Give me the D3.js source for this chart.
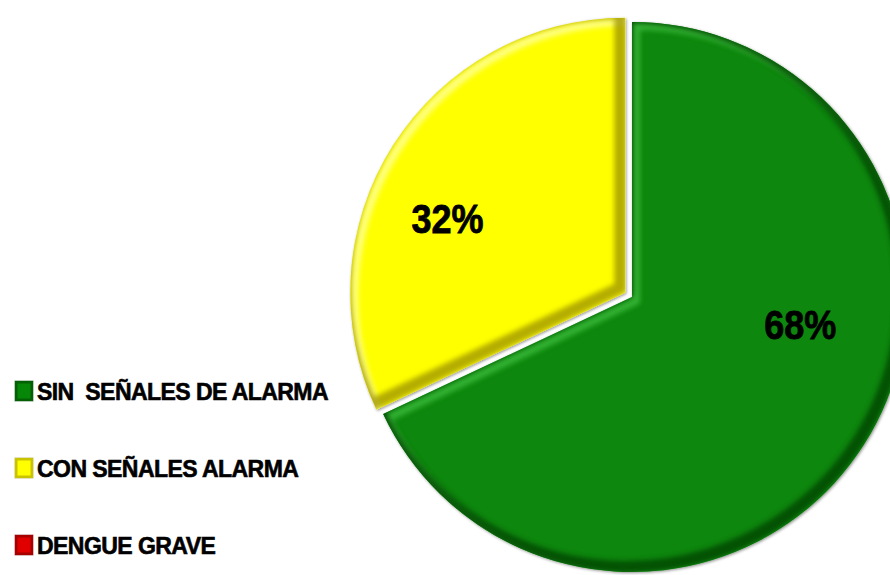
<!DOCTYPE html>
<html>
<head>
<meta charset="utf-8">
<script src="https://cdn.jsdelivr.net/npm/d3@7"></script>
<style>
  body { margin: 0; background: #fff; }
  svg { display: block; }
</style>
</head>
<body>
<svg width="890" height="575"></svg>
<script>
// datos del grafico
var categories = ["SIN  SEÑALES DE ALARMA", "CON SEÑALES ALARMA", "DENGUE GRAVE"];
var values = [68, 32, 0];
var colors = ["#078707", "#ffff00", "#e00000"];
var darkColors = ["#023f02", "#9c9200", "#7a0000"];
var lightColors = ["#40c040", "#ffffa8", "#ff8080"];

var data = categories.map(function(c, i) {
  return { name: c, value: values[i], i: i };
});

var svg = d3.select("svg");
var cx = 632, cy = 297, radius = 275;

var defs = svg.append("defs");
defs.append("filter").attr("id", "blur")
  .attr("x", "-20%").attr("y", "-20%").attr("width", "140%").attr("height", "140%")
  .append("feGaussianBlur").attr("stdDeviation", 2.5);
var sh = defs.append("filter").attr("id", "shadow")
  .attr("x", "-20%").attr("y", "-20%").attr("width", "140%").attr("height", "140%");
sh.append("feDropShadow").attr("dx", 1).attr("dy", 1).attr("stdDeviation", 1.5)
  .attr("flood-color", "#000").attr("flood-opacity", 0.45);

var pie = d3.pie().sort(null).value(function(d) { return d.value; });
var arc = d3.arc().innerRadius(0).outerRadius(radius);

var arcs = pie(data).filter(function(d) { return d.value > 0; });

// colocacion de etiquetas (giro en radianes, fraccion del radio)
var labelTurn = [-0.40, -0.17];
var labelDist = [0.62, 0.70];

var g = svg.append("g").attr("transform", "translate(" + cx + "," + cy + ")");

var slices = g.selectAll("g.slice")
  .data(arcs)
  .enter()
  .append("g")
  .attr("class", "slice")
  .attr("transform", function(d) {
    // la porcion amarilla esta separada
    if (d.data.i === 1) {
      var mid = (d.startAngle + d.endAngle) / 2;
      return "translate(" + (Math.sin(mid) * 8) + "," + (-Math.cos(mid) * 8) + ")";
    }
    return null;
  });

slices.each(function(d) {
  var s = d3.select(this);
  var id = "clip" + d.data.i;
  defs.append("clipPath").attr("id", id).append("path").attr("d", arc(d));

  s.append("path")
    .attr("d", arc(d))
    .attr("fill", colors[d.data.i])
    .attr("filter", "url(#shadow)");

  var inner = s.append("g").attr("clip-path", "url(#" + id + ")");
  // bisel: luz arriba-izquierda, sombra abajo-derecha
  inner.append("path")
    .attr("d", arc(d))
    .attr("fill", "none")
    .attr("stroke", lightColors[d.data.i])
    .attr("stroke-width", 8)
    .attr("opacity", 0.75)
    .attr("transform", "translate(4,4)")
    .attr("filter", "url(#blur)");
  inner.append("path")
    .attr("d", arc(d))
    .attr("fill", "none")
    .attr("stroke", darkColors[d.data.i])
    .attr("stroke-width", 12)
    .attr("opacity", 0.75)
    .attr("transform", "translate(-5,-5)")
    .attr("filter", "url(#blur)");
});

// etiquetas de porcentaje
slices.append("text")
  .attr("transform", function(d) {
    var mid = (d.startAngle + d.endAngle) / 2 + labelTurn[d.data.i];
    var r = radius * labelDist[d.data.i];
    return "translate(" + (Math.sin(mid) * r) + "," + (-Math.cos(mid) * r) + ") scale(0.9,1)";
  })
  .attr("text-anchor", "middle")
  .attr("dy", "0.36em")
  .style("font-family", "'Liberation Sans', Arial, sans-serif")
  .style("font-weight", "bold")
  .style("font-size", "40px")
  .style("fill", "#000")
  .style("stroke", "#000")
  .style("stroke-width", "0.8px")
  .text(function(d) { return d.value + "%"; });

// leyenda
var legendY = d3.scalePoint().domain(categories).range([391, 545]);

var legend = svg.selectAll("g.legend")
  .data(data)
  .enter()
  .append("g")
  .attr("class", "legend")
  .attr("transform", function(d) { return "translate(15," + legendY(d.name) + ")"; });

legend.append("rect")
  .attr("x", 0).attr("y", -10)
  .attr("width", 18).attr("height", 20)
  .attr("fill", function(d) { return colors[d.i]; });
legend.append("rect")
  .attr("x", 1).attr("y", -9)
  .attr("width", 16).attr("height", 18)
  .attr("fill", "none")
  .attr("stroke", function(d) { return darkColors[d.i]; })
  .attr("stroke-width", 3)
  .attr("opacity", 0.55);

legend.append("text")
  .attr("x", 0)
  .attr("y", 0)
  .attr("dy", "0.36em")
  .attr("transform", "translate(22,0) scale(0.96,1)")
  .style("font-family", "'Liberation Sans', Arial, sans-serif")
  .style("font-weight", "bold")
  .style("font-size", "24px")
  .style("letter-spacing", "-0.6px")
  .style("white-space", "pre")
  .style("fill", "#000")
  .style("stroke", "#000")
  .style("stroke-width", "0.6px")
  .text(function(d) { return d.name; });
</script>
</body>
</html>
